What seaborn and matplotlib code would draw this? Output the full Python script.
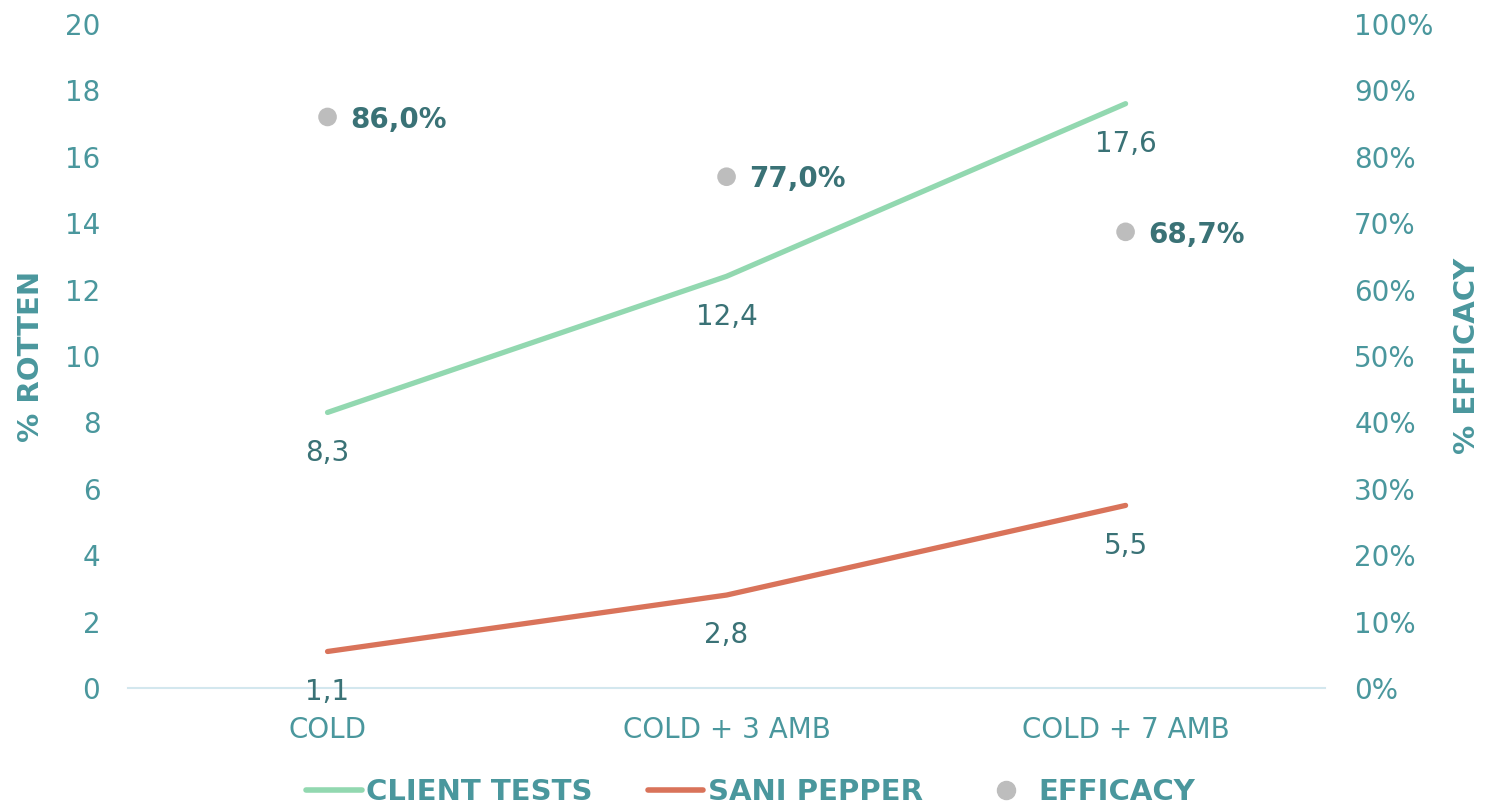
import numpy as np
import pandas as pd
import seaborn as sns
import matplotlib.pyplot as plt
from matplotlib.lines import Line2D

categories = ["COLD", "COLD + 3 AMB", "COLD + 7 AMB"]
client_tests = [8.3, 12.4, 17.6]
sani_pepper = [1.1, 2.8, 5.5]
efficacy = [86.0, 77.0, 68.7]

teal = "#4a979d"
dark_teal = "#3a7276"
green = "#92d8b0"
orange = "#d9735a"
grey = "#bdbdbd"

sns.set_theme(style="white")
plt.rcParams["font.family"] = ["DejaVu Sans"]

df = pd.DataFrame({
    "cat": categories * 2,
    "pos": [0, 1, 2] * 2,
    "value": client_tests + sani_pepper,
    "series": ["CLIENT TESTS"] * 3 + ["SANI PEPPER"] * 3,
})
eff_df = pd.DataFrame({"pos": [0, 1, 2], "eff": efficacy})

fig = plt.figure(figsize=(15.01, 8.08), dpi=100)
ax = fig.add_axes([0.0853, 0.1485, 0.7975, 0.8218])
ax2 = ax.twinx()

sns.lineplot(data=df, x="pos", y="value", hue="series",
             palette={"CLIENT TESTS": green, "SANI PEPPER": orange},
             linewidth=3.8, ax=ax, legend=False)
sns.scatterplot(data=eff_df, x="pos", y="eff", color=grey, s=180,
                edgecolor="none", ax=ax2, legend=False, zorder=5)

for series in (client_tests, sani_pepper):
    for i, v in enumerate(series):
        ax.annotate(f"{v:.1f}".replace(".", ","), (i, v), xytext=(0, -29),
                    textcoords="offset points", ha="center", va="center",
                    color=dark_teal, fontsize=20)
for i, v in enumerate(efficacy):
    ax2.annotate(f"{v:.1f}%".replace(".", ","), (i, v), xytext=(16, -2),
                 textcoords="offset points", ha="left", va="center",
                 color=dark_teal, fontsize=20, fontweight="bold")

ax.set_xlim(-0.5, 2.5)
ax.set_ylim(0, 20)
ax.set_yticks(np.arange(0, 21, 2))
ax2.set_ylim(0, 100)
ax2.set_yticks(np.arange(0, 101, 10))
ax2.set_yticklabels([f"{t}%" for t in range(0, 101, 10)])
ax.set_xticks([0, 1, 2])
ax.set_xticklabels(categories)

for a in (ax, ax2):
    for s in a.spines.values():
        s.set_visible(False)
    a.tick_params(length=0, labelsize=20, labelcolor=teal)
ax.spines["bottom"].set_visible(True)
ax.spines["bottom"].set_color("#d3e7ee")
ax.spines["bottom"].set_linewidth(1.5)
ax.tick_params(axis="y", pad=20)
ax.tick_params(axis="x", pad=20)
ax2.tick_params(axis="y", pad=21)

ax.set_xlabel("")
ax.set_ylabel("% ROTTEN", color=teal, fontsize=21, fontweight="bold", labelpad=14)
ax2.set_ylabel("% EFFICACY", color=teal, fontsize=21, fontweight="bold", labelpad=14)
ax2.yaxis.set_label_position("right")

handles = [
    Line2D([], [], color=green, linewidth=4, solid_capstyle="round"),
    Line2D([], [], color=orange, linewidth=4, solid_capstyle="round"),
    Line2D([], [], color=grey, marker="o", linestyle="none", markersize=13),
]
leg = fig.legend(handles, ["CLIENT TESTS", "SANI PEPPER", "EFFICACY"],
                 loc="center", bbox_to_anchor=(0.5, 0.02), ncol=3,
                 frameon=False, handlelength=1.9, handletextpad=0.15,
                 columnspacing=1.9, prop={"size": 21, "weight": "bold"})
for t in leg.get_texts():
    t.set_color(teal)

fig.savefig("out.png", dpi=100)
